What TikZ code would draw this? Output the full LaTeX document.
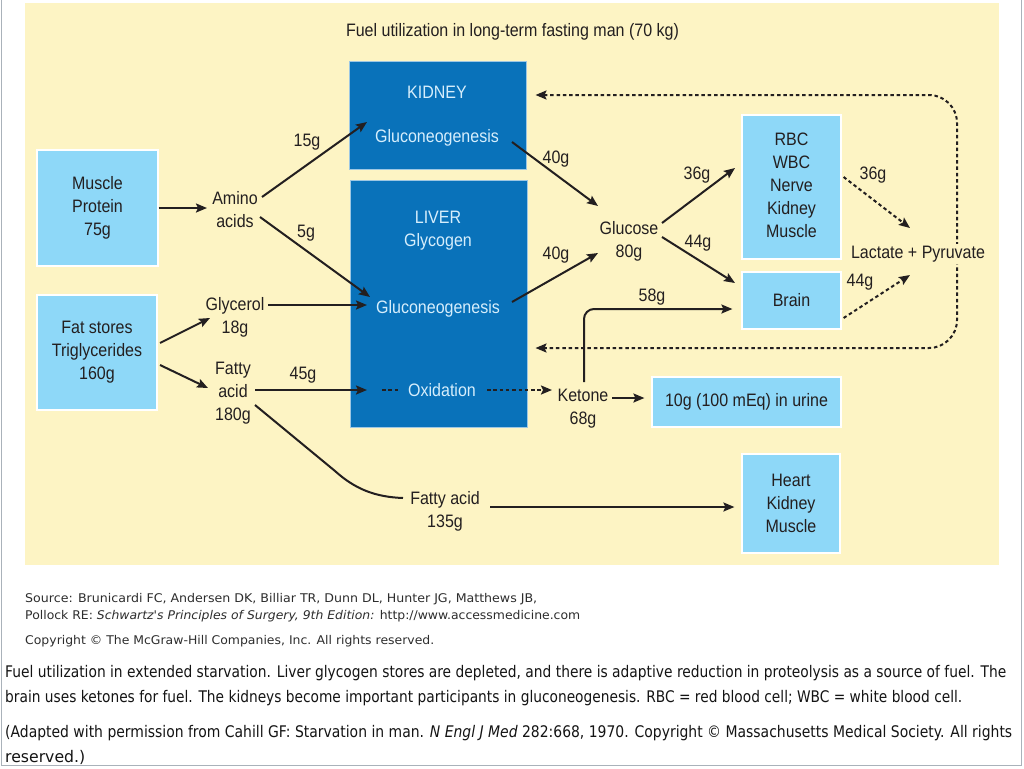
\documentclass[tikz,border=0pt]{standalone}
\usepackage{fontspec}
\usepackage{graphicx}
\usetikzlibrary{arrows.meta,calc}
\newfontfamily\diagfont[FakeStretch=0.89]{Liberation Sans}
\newfontfamily\capfont{DejaVu Sans}
\definecolor{panel}{RGB}{253,244,196}
\definecolor{lblue}{RGB}{142,216,248}
\definecolor{dblue}{RGB}{9,114,186}
\definecolor{wtxt}{RGB}{214,238,252}
\definecolor{txt}{RGB}{35,31,32}
\definecolor{captxt}{RGB}{20,20,20}
\definecolor{srctxt}{RGB}{45,45,45}
\definecolor{framegray}{RGB}{170,178,186}
\newcommand\dfont{\diagfont\fontsize{18}{23}\selectfont}
\newcommand\capsize{\capfont\fontsize{16}{19}\selectfont}
\newcommand\srcsize{\capfont\fontsize{12}{14}\selectfont}
\newcommand\fitw[2]{\resizebox{#1pt}{\height}{#2}}
\tikzset{
  lbox/.style={draw=white, line width=1.2pt, fill=lblue, inner sep=0pt, align=center, font=\dfont, text=txt},
  dbox/.style={draw=white!60!dblue, line width=1pt, fill=dblue, inner sep=0pt},
  lab/.style={font=\dfont, text=txt, align=center, inner sep=1pt},
  wlab/.style={font=\dfont, text=wtxt, align=center, inner sep=1pt},
  arr/.style={line width=2pt, draw=txt, -{Stealth[length=11pt,width=9pt,inset=2pt]}},
  dashy/.style={line width=2pt, draw=txt, dash pattern=on 3.5pt off 2.8pt},
  darr/.style={dashy, -{Stealth[length=11pt,width=9pt,inset=2pt]}},
  ddarr/.style={dashy, {Stealth[length=11pt,width=9pt,inset=2pt]}-{Stealth[length=11pt,width=9pt,inset=2pt]}},
  capline/.style={anchor=base west, inner sep=0pt, font=\capsize, text=captxt},
  srcline/.style={anchor=base west, inner sep=0pt, font=\srcsize, text=srctxt}
}
\begin{document}
\begin{tikzpicture}[x=1pt,y=-1pt]
\useasboundingbox (0,0) rectangle (1024,768);
\fill[white] (0,0) rectangle (1024,768);
\draw[framegray, line width=1pt] (1,0) -- (1,765) -- (1021,765) -- (1021,0);
\fill[panel] (25,3) rectangle (999,565);

% title
\node[lab] (title) at (512.5,32) {Fuel utilization in long-term fasting man (70 kg)};

% boxes
\node[lbox, minimum width=121pt, minimum height=116pt] (muscle) at (97.5,208) {Muscle\\Protein\\75g};
\node[lbox, minimum width=120pt, minimum height=115pt] (fat) at (97,352.5) {Fat stores\\Triglycerides\\160g};
\node[dbox, minimum width=177pt, minimum height=108pt] (kidney) at (437.5,115) {};
\node[dbox, minimum width=177pt, minimum height=247pt] (liver) at (438.5,303.5) {};
\node[lbox, minimum width=99pt, minimum height=144pt] (rbc) at (791.5,187) {};
\node[lab] (rbct) at (791.5,185) {RBC\\WBC\\Nerve\\Kidney\\Muscle};
\node[lbox, minimum width=99pt, minimum height=57pt] (brain) at (791.5,300.5) {Brain};
\node[lbox, minimum width=189pt, minimum height=50pt] (urine) at (746.5,402) {10g (100 mEq) in urine};
\node[lbox, minimum width=98pt, minimum height=99pt] (heart) at (791,503.5) {Heart\\Kidney\\Muscle};

% texts in dark boxes
\node[wlab] (kidt) at (437,92) {KIDNEY};
\node[wlab] (kgluco) at (437,138) {Gluconeogenesis};
\node[wlab] (livt) at (438,217) {LIVER};
\node[wlab] (glyc) at (438,242) {Glycogen};
\node[wlab] (lgluco) at (438,309) {Gluconeogenesis};
\node[wlab] (oxid) at (442,390) {Oxidation};

% free texts
\node[lab] (amino) at (235,210) {Amino\\acids};
\node[lab] (glycerol) at (235,317) {Glycerol\\18g};
\node[lab] (fatty) at (233,393) {Fatty\\acid\\180g};
\node[lab] (fatty2) at (445,511) {Fatty acid\\135g};
\node[lab] (glucose) at (629,241) {Glucose\\80g};
\node[lab] (ketone) at (583,409) {Ketone\\68g};
\coordinate (lpc) at (918,254);

% amount labels
\node[lab] (l15) at (307,142) {15g};
\node[lab] (l5) at (306,233) {5g};
\node[lab] (l40a) at (556,159) {40g};
\node[lab] (l40b) at (556,255) {40g};
\node[lab] (l36a) at (697,175) {36g};
\node[lab] (l44a) at (698,243) {44g};
\node[lab] (l45) at (303,375) {45g};
\node[lab] (l58) at (652,297) {58g};
\node[lab] (l36b) at (873,175) {36g};
\node[lab] (l44b) at (860,282) {44g};

% solid arrows
\draw[arr] (muscle.east) -- ($(amino)+(-28,-2)$);
\draw[arr] ($(amino)+(27,-13)$) -- ($(kidney)+(-70.5,7)$);
\draw[arr] ($(amino)+(25,7)$) -- ($(liver)+(-68.5,-6.5)$);
\draw[arr] ($(kidney)+(74.5,27)$) -- ($(glucose)+(-31,-35)$);
\draw[arr] ($(liver)+(73.5,-1.5)$) -- ($(glucose)+(-31,12)$);
\draw[arr] ($(glucose)+(33,-18)$) -- ($(rbc)+(-56.5,-19)$);
\draw[arr] ($(glucose)+(33,-4)$) -- ($(brain)+(-56.5,-17.5)$);
\draw[arr] ($(fat)+(63,-9.5)$) -- ($(glycerol)+(-25,1)$);
\draw[arr] ($(fat)+(63,12.5)$) -- ($(fatty)+(-25,-5)$);
\draw[arr] ($(glycerol)+(33,-12)$) -- ($(liver)+(-71.5,1.5)$);
\draw[arr] ($(fatty)+(22,-3)$) -- ($(liver)+(-71.5,86.5)$);
\draw[line width=2pt, draw=txt] ($(fatty)+(22,12)$) -- ($(fatty2)+(-110,-40)$)
   .. controls ($(fatty2)+(-90,-22)$) and ($(fatty2)+(-70,-14)$) .. ($(fatty2)+(-42,-13)$);
\draw[arr] ($(fatty2)+(45,-4)$) -- ($(heart.west)+(-7,3.5)$);
\draw[arr] ($(ketone)+(29,-11)$) -- ($(urine.west)+(-7,-4)$);
\draw[arr, rounded corners=10pt] ($(ketone)+(1,-27)$) |- ($(brain.west)+(-9,8.5)$);

% dashed arrows
\draw[dashy] ($(oxid)+(-60,0)$) -- ($(oxid)+(-42,0)$);
\draw[darr] ($(oxid)+(45,0)$) -- ($(ketone)+(-31,-19)$);
\draw[darr] ($(rbc.east)+(2,-10)$) -- ($(lpc)+(-8,-26)$);
\draw[darr] ($(brain.east)+(2,17.5)$) -- ($(lpc)+(-8,21)$);
\draw[ddarr, rounded corners=28pt] ($(kidney.east)+(9,-20)$) -| ($(lpc)+(39,0)$) |- ($(liver.east)+(8,44.5)$);
\node[lab, fill=panel, inner sep=2pt] (lp) at (lpc) {Lactate + Pyruvate};

% source and caption
\node[srcline] (src1) at (25,602) {\fitw{512}{Source: Brunicardi FC, Andersen DK, Billiar TR, Dunn DL, Hunter JG, Matthews JB,}};
\node[srcline] (src2) at (25,619) {\fitw{555}{Pollock RE: \textit{Schwartz's Principles of Surgery, 9th Edition:} http://www.accessmedicine.com}};
\node[srcline] (src3) at (25,644) {\fitw{409}{Copyright © The McGraw-Hill Companies, Inc. All rights reserved.}};
\node[capline] (cap1) at (5,677) {\fitw{1001}{Fuel utilization in extended starvation. Liver glycogen stores are depleted, and there is adaptive reduction in proteolysis as a source of fuel. The}};
\node[capline] (cap2) at (5,702) {\fitw{957}{brain uses ketones for fuel. The kidneys become important participants in gluconeogenesis. RBC = red blood cell; WBC = white blood cell.}};
\node[capline] (cap3) at (5,737) {\fitw{1007}{(Adapted with permission from Cahill GF: Starvation in man. \textit{N Engl J Med} 282:668, 1970. Copyright © Massachusetts Medical Society. All rights}};
\node[capline] (cap4) at (5,762) {\fitw{80}{reserved.)}};
\end{tikzpicture}
\end{document}
